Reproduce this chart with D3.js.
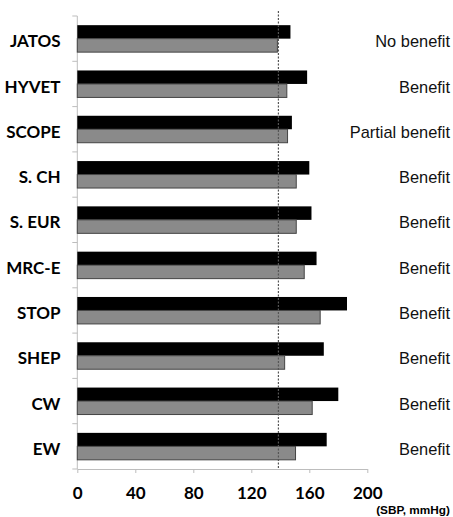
<!DOCTYPE html>
<html>
<head>
<meta charset="utf-8">
<script src="https://cdn.jsdelivr.net/npm/d3@7"></script>
<style>
  html, body { margin: 0; padding: 0; background: #fff; }
  svg { display: block; }
</style>
</head>
<body>
<div id="chart"></div>
<script>
const trials = ['JATOS', 'HYVET', 'SCOPE', 'S. CH', 'S. EUR', 'MRC-E', 'STOP', 'SHEP', 'CW', 'EW']
const sbpControl = [147, 158.5, 148, 160, 161.5, 165, 186, 170, 180, 172]
const sbpTreated = [138, 144.5, 145, 151, 151, 156.5, 167.5, 143, 162, 150.5]
const outcomes = ['No benefit', 'Benefit', 'Partial benefit', 'Benefit', 'Benefit', 'Benefit', 'Benefit', 'Benefit', 'Benefit', 'Benefit']
const xTicks = [0, 40, 80, 120, 160, 200]
const targetSbp = 138.7
const unitLabel = '(SBP, mmHg)'

const width = 453, height = 517

const svg = d3.select('#chart').append('svg')
    .attr('width', width)
    .attr('height', height)

const x = d3.scaleLinear().domain([0, 200]).range([77.3, 367.3])
const y = d3.scaleBand().domain(trials).range([16, 469]).padding(0)
const series = d3.scaleBand().domain(['control', 'treated']).range([0, y.bandwidth()]).paddingOuter(0.68).paddingInner(0)

const rows = trials.map((t, i) => ({ trial: t, control: sbpControl[i], treated: sbpTreated[i], outcome: outcomes[i] }))

// axes in light grey
const axisColor = '#bdbdbd'
svg.append('line')
    .attr('x1', x(0)).attr('x2', x(0))
    .attr('y1', y.range()[0]).attr('y2', y.range()[1])
    .attr('stroke', axisColor)

svg.selectAll('.ytick')
    .data(trials.map(t => y(t)).concat([y.range()[1]]))
    .enter()
    .append('line')
    .attr('class', 'ytick')
    .attr('x1', x(0) - 5).attr('x2', x(0))
    .attr('y1', d => d).attr('y2', d => d)
    .attr('stroke', axisColor)

const xAxis = svg.append('g')
    .attr('transform', `translate(0,${y.range()[1]})`)
    .call(d3.axisBottom(x).tickValues(xTicks).tickSize(4).tickSizeOuter(0))
xAxis.select('.domain').attr('stroke', axisColor)
xAxis.selectAll('.tick line').attr('stroke', axisColor)
xAxis.selectAll('.tick text')
    .attr('y', 30)
    .attr('dy', 0)
    .attr('fill', '#000')
    .style('font-family', 'Lato, sans-serif')
    .style('font-weight', 'bold')
    .style('font-size', '17px')

// bars
const groups = svg.selectAll('.trial')
    .data(rows)
    .enter()
    .append('g')
    .attr('class', 'trial')
    .attr('transform', d => `translate(0,${y(d.trial)})`)

groups.append('rect')
    .attr('x', x(0))
    .attr('y', series('control'))
    .attr('width', d => x(d.control) - x(0))
    .attr('height', series.bandwidth())
    .attr('fill', '#000')

groups.append('rect')
    .attr('x', x(0))
    .attr('y', series('treated'))
    .attr('width', d => x(d.treated) - x(0))
    .attr('height', series.bandwidth())
    .attr('fill', '#8a8a8a')
    .attr('stroke', '#444')
    .attr('stroke-width', 1)

// target line
svg.append('line')
    .attr('x1', x(targetSbp)).attr('x2', x(targetSbp))
    .attr('y1', 11).attr('y2', y.range()[1])
    .attr('stroke', '#555')
    .attr('stroke-width', 1.2)
    .attr('stroke-dasharray', '2,1.5')

// trial names
groups.append('text')
    .attr('x', 60.5)
    .attr('y', y.bandwidth() / 2 + 8.6)
    .attr('text-anchor', 'end')
    .style('font-family', 'Lato, sans-serif')
    .style('font-weight', 'bold')
    .style('font-size', '17px')
    .text(d => d.trial)

// outcome
groups.append('text')
    .attr('x', 450)
    .attr('y', y.bandwidth() / 2 + 8.6)
    .attr('text-anchor', 'end')
    .attr('fill', '#111')
    .style('font-family', '"Liberation Sans", Arial, sans-serif')
    .style('font-size', '16.4px')
    .text(d => d.outcome)

svg.append('text')
    .attr('x', 450)
    .attr('y', 514)
    .attr('text-anchor', 'end')
    .style('font-family', '"Liberation Sans", Arial, sans-serif')
    .style('font-weight', 'bold')
    .style('font-size', '11.8px')
    .text(unitLabel)
</script>
</body>
</html>
